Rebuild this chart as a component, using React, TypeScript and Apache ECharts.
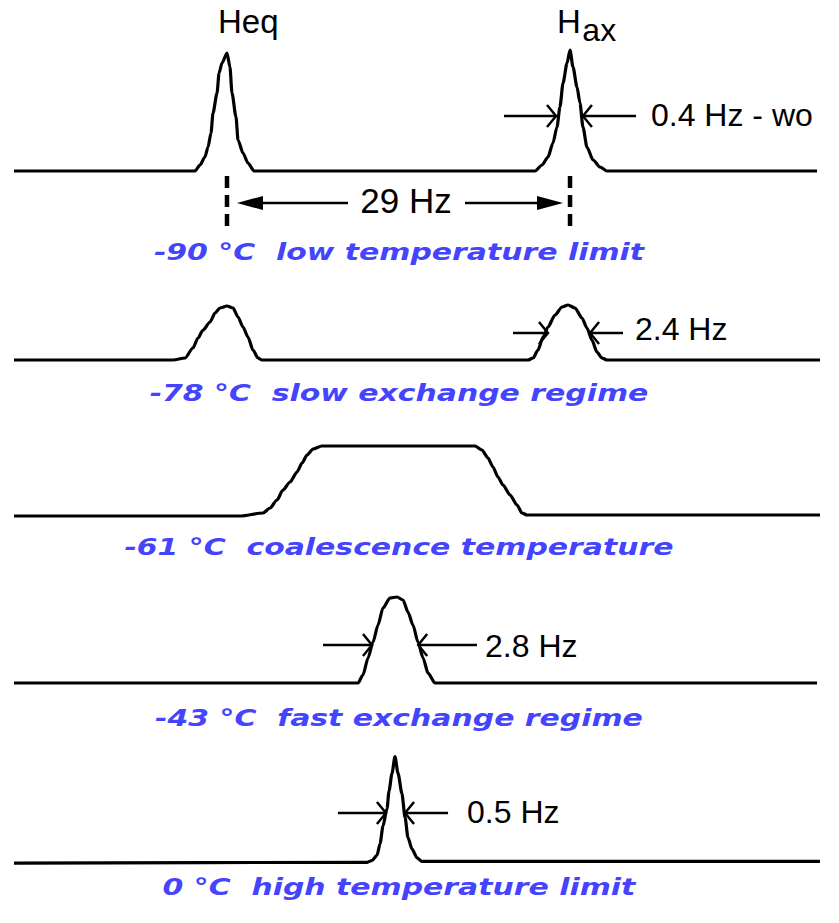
import React, { useEffect, useRef } from 'react';
import * as echarts from 'echarts';

// ---------- data (frequency in Hz, intensity in arbitrary units) ----------
const FREQ_RANGE = [0, 68];

const spectrumMinus90: [number, number][] = [
  [0, 0], [15.27, 0], [15.69, 6], [16.11, 14], [16.37, 24], [16.62, 38], [16.79, 58], [17.13, 78],
  [17.3, 98], [17.55, 108], [17.97, 118], [18.22, 104], [18.39, 78], [18.73, 54], [18.9, 31],
  [19.32, 18], [19.74, 8], [20.25, 0], [43.96, 0], [44.55, 6], [45.05, 14], [45.47, 28], [45.81, 44],
  [46.06, 64], [46.32, 88], [46.66, 108], [46.91, 121], [47.16, 104], [47.5, 84], [47.75, 68],
  [48.0, 44], [48.34, 24], [48.85, 11], [49.44, 4], [50.03, 0], [67.75, 0],
];

const spectrumMinus78: [number, number][] = [
  [0, 0], [13.41, 0], [14.43, 2], [15.1, 12], [15.52, 22], [15.95, 30], [16.54, 38], [16.96, 47],
  [17.38, 52], [17.97, 54], [18.48, 52], [18.9, 43], [19.32, 33], [19.74, 23], [20.16, 10],
  [20.59, 2], [20.92, 0], [43.37, 0], [43.79, 2], [44.21, 10], [44.63, 23], [45.05, 33], [45.64, 45],
  [46.24, 53], [46.74, 55], [47.33, 52], [47.92, 42], [48.34, 32], [48.76, 20], [49.18, 8],
  [49.6, 2], [50.03, 0], [68.0, 0],
];

const spectrumMinus61: [number, number][] = [
  [0, 0], [19.07, 0], [21.01, 3], [21.6, 8], [22.19, 16], [22.69, 26], [23.29, 34], [23.88, 44],
  [24.3, 53], [24.72, 61], [25.23, 67], [25.98, 70], [38.89, 70], [39.48, 66], [39.99, 58],
  [40.41, 49], [40.83, 39], [41.26, 31], [41.85, 21], [42.44, 11], [42.86, 3], [43.28, 1], [68.0, 1],
];

const spectrumMinus43: [number, number][] = [
  [0, 0], [29.02, 0], [29.44, 8], [29.87, 25], [30.29, 41], [30.71, 58], [31.13, 75], [31.72, 85],
  [32.31, 86], [32.82, 83], [33.24, 71], [33.66, 58], [34.08, 41], [34.51, 25], [34.93, 10],
  [35.52, 0], [67.75, 0],
];

const spectrum0: [number, number][] = [
  [0, -2], [29.8, -1], [30.2, 1], [30.63, 7], [30.88, 20], [31.13, 40], [31.47, 60], [31.64, 80],
  [31.89, 100], [32.14, 119], [32.4, 100], [32.73, 77], [32.99, 50], [33.24, 27], [33.58, 14],
  [34.0, 4], [34.42, 0], [68.0, 0],
];

const spectra = [spectrumMinus90, spectrumMinus78, spectrumMinus61, spectrumMinus43, spectrum0];

const temperatureLabels = [
  '-90 °C  low temperature limit',
  '-78 °C  slow exchange regime',
  '-61 °C  coalescence temperature',
  '-43 °C  fast exchange regime',
  '0 °C  high temperature limit',
];
const labelCenterHz = 32.48;
const labelOffsets = [-81, -33, -31, -35, -29];

// peak positions in the low temperature spectrum
const peakNames = ['Heq', 'Hax'];
const peakPositions = [17.97, 46.91];
const separationText = '29 Hz';

// linewidth annotations: panel, arrow height, left arrow [tail, tip], right arrow [tail, tip], text
const widthPanels = [0, 1, 3, 4];
const widthArrowY = [55, 27, 38, 55];
const widthLeftArrows = [[41.34, 45.73], [42.1, 45.05], [26.07, 30.2], [27.33, 31.38]];
const widthRightArrows = [[52.48, 48.0], [51.38, 48.6], [39.06, 34.1], [36.62, 32.99]];
const widthTexts = ['0.4 Hz - wo', '2.4 Hz', '2.8 Hz', '0.5 Hz'];
const widthTextX = [53.74, 52.39, 39.74, 38.22];
const widthTextY = [56, 31, 37, 56];

// ---------- layout ----------
const BASELINES = [171, 360, 516, 683, 877];
const Y_RANGE = [-70, 130];

export default function App() {
  const ref = useRef<HTMLDivElement>(null);

  useEffect(() => {
    document.body.style.margin = '0';
    const chart = echarts.init(ref.current!, null, { renderer: 'svg' });

    const grids = BASELINES.map((b) => ({
      left: 14,
      width: 806,
      top: b - Y_RANGE[1],
      height: Y_RANGE[1] - Y_RANGE[0],
    }));

    chart.setOption({
      animation: false,
      backgroundColor: '#ffffff',
      grid: grids,
      xAxis: grids.map((_, i) => ({
        type: 'value', gridIndex: i, min: FREQ_RANGE[0], max: FREQ_RANGE[1], show: false,
      })),
      yAxis: grids.map((_, i) => ({
        type: 'value', gridIndex: i, min: Y_RANGE[0], max: Y_RANGE[1], show: false,
      })),
      series: spectra.map((d, i) => ({
        type: 'line',
        xAxisIndex: i,
        yAxisIndex: i,
        data: d,
        showSymbol: false,
        smooth: 0.25,
        smoothMonotone: 'x',
        clip: false,
        lineStyle: { color: '#000', width: 3.2 },
      })),
    });

    const px = (g: number, x: number, y: number) =>
      chart.convertToPixel({ gridIndex: g }, [x, y]) as number[];

    const graphics: any[] = [];
    const black = '#000';

    const text = (x: number, y: number, str: string, size: number, align = 'left', extra: any = {}) => ({
      type: 'text',
      x, y,
      style: {
        text: str,
        fill: black,
        fontFamily: '"Liberation Sans", Arial, sans-serif',
        fontSize: size,
        align, textAlign: align,
        verticalAlign: 'middle', textVerticalAlign: 'middle',
        ...extra,
      },
    });

    const openArrow = (g: number, tailX: number, tipX: number, y: number) => {
      const a = px(g, tailX, y);
      const b = px(g, tipX, y);
      const d = Math.sign(b[0] - a[0]);
      graphics.push({
        type: 'line',
        shape: { x1: a[0], y1: a[1], x2: b[0], y2: b[1] },
        style: { stroke: black, lineWidth: 2.5 },
      });
      graphics.push({
        type: 'polyline',
        shape: { points: [[b[0] - d * 9, b[1] - 11], [b[0], b[1]], [b[0] - d * 9, b[1] + 11]] },
        style: { stroke: black, lineWidth: 2.5, fill: 'none' },
      });
    };

    const filledArrow = (g: number, tailX: number, tipX: number, y: number) => {
      const a = px(g, tailX, y);
      const b = px(g, tipX, y);
      const d = Math.sign(b[0] - a[0]);
      graphics.push({
        type: 'line',
        shape: { x1: a[0], y1: a[1], x2: b[0] - d * 20, y2: b[1] },
        style: { stroke: black, lineWidth: 2.5 },
      });
      graphics.push({
        type: 'polygon',
        shape: { points: [[b[0], b[1]], [b[0] - d * 26, b[1] - 7], [b[0] - d * 26, b[1] + 7]] },
        style: { fill: black },
      });
    };

    // peak labels
    {
      const p = px(0, 17.21, 150);
      graphics.push(text(p[0], p[1], peakNames[0], 33));
      const q = px(0, 45.81, 150);
      graphics.push(text(q[0], q[1], peakNames[1].slice(0, 1), 33));
      const r = px(0, 47.95, 141);
      graphics.push(text(r[0], r[1], peakNames[1].slice(1), 32));
    }

    // dashed peak markers
    peakPositions.forEach((f) => {
      const a = px(0, f, -5);
      const b = px(0, f, -57);
      graphics.push({
        type: 'line',
        shape: { x1: a[0], y1: a[1], x2: b[0], y2: b[1] },
        style: { stroke: black, lineWidth: 4.5, lineDash: [12, 7] },
      });
    });

    // separation arrows
    filledArrow(0, 28.18, peakPositions[0] + 0.84, -32);
    filledArrow(0, 38.05, peakPositions[1] - 0.59, -32);
    {
      const t = px(0, 33.07, -29);
      graphics.push(text(t[0], t[1], separationText, 35, 'center'));
    }

    // linewidth annotations
    widthPanels.forEach((g, i) => {
      openArrow(g, widthLeftArrows[i][0], widthLeftArrows[i][1], widthArrowY[i]);
      openArrow(g, widthRightArrows[i][0], widthRightArrows[i][1], widthArrowY[i]);
      const t = px(g, widthTextX[i], widthTextY[i]);
      graphics.push(text(t[0], t[1], widthTexts[i], 32));
    });

    // temperature labels
    temperatureLabels.forEach((lab, i) => {
      const p = px(i, labelCenterHz, labelOffsets[i]);
      graphics.push({
        type: 'text',
        x: p[0],
        y: p[1],
        scaleX: 1.3,
        style: {
          text: lab,
          fill: '#4444ff',
          fontFamily: '"DejaVu Sans", Verdana, sans-serif',
          fontSize: 23,
          fontWeight: 'bold',
          fontStyle: 'italic',
          align: 'center', textAlign: 'center',
          verticalAlign: 'middle', textVerticalAlign: 'middle',
        },
      });
    });

    chart.setOption({ graphic: graphics });

    return () => chart.dispose();
  }, []);

  return <div ref={ref} style={{ width: 839, height: 923 }} />;
}
